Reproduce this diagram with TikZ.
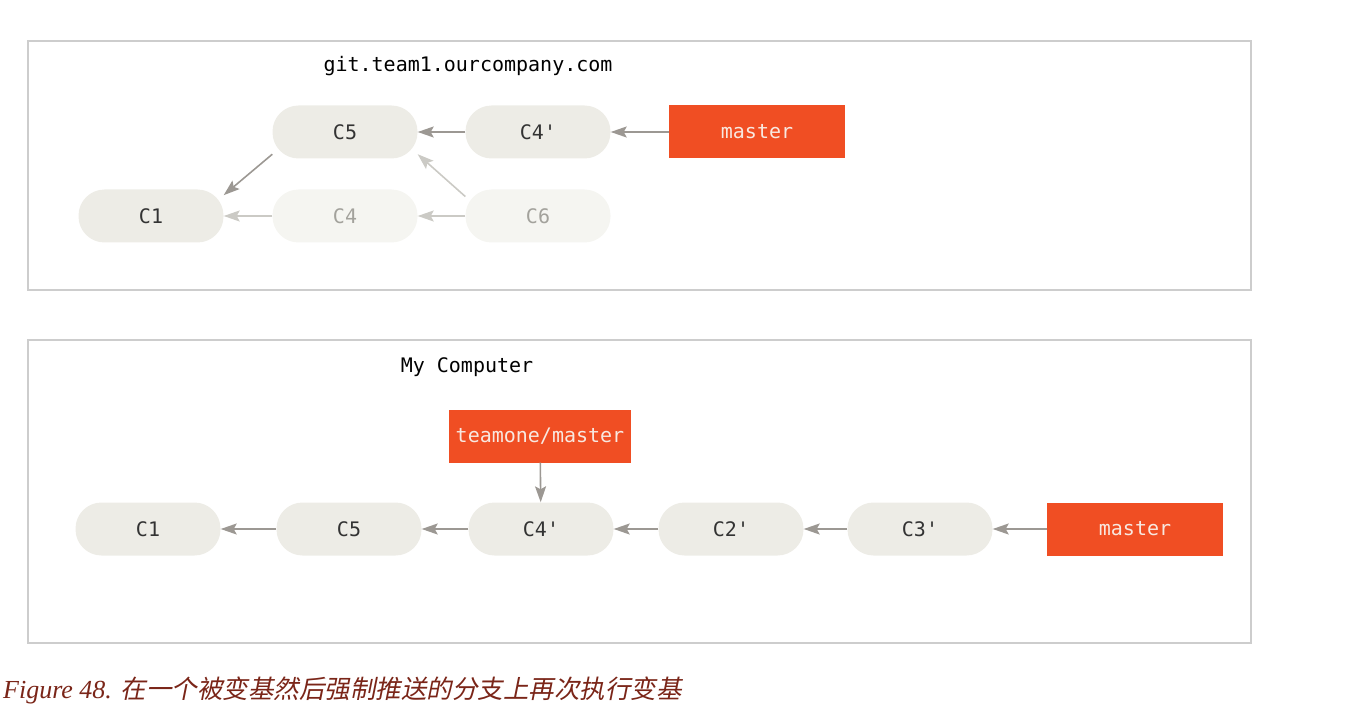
\documentclass[tikz,border=0pt]{standalone}
\usepackage{fontspec}
\setmainfont{Liberation Serif}
\setmonofont{DejaVu Sans Mono}
\newfontfamily\cjk{Noto Sans CJK SC}[FakeSlant=0.2]
\usepackage{tikz}
\usepackage{xcolor}
\usetikzlibrary{arrows.meta}

\definecolor{commitfill}{HTML}{EDECE6}
\definecolor{fadefill}{HTML}{F5F5F1}
\definecolor{fadetext}{HTML}{A3A29C}
\definecolor{arrowgray}{HTML}{9C9893}
\definecolor{fadearrow}{HTML}{CBCAC5}
\definecolor{branchred}{HTML}{F04E23}
\definecolor{branchtext}{HTML}{F8E8E0}
\definecolor{framegray}{HTML}{CDCDCD}
\definecolor{captionred}{HTML}{7A2518}

\tikzset{
	commit/.style={fill=commitfill, rounded corners=26pt, minimum width=145pt,
		minimum height=53pt, font=\ttfamily\fontsize{20}{23}\selectfont, text=black!80},
	faded/.style={commit, fill=fadefill, text=fadetext},
	branch/.style={fill=branchred, minimum height=53pt, inner xsep=7pt,
		font=\ttfamily\fontsize{20}{23}\selectfont, text=branchtext},
	arr/.style={-{Stealth[length=16pt,width=11pt,inset=3pt]}, draw=arrowgray, line width=1.6pt},
	fadearr/.style={arr, draw=fadearrow},
	frame/.style={draw=framegray, line width=2pt},
}

\begin{document}
\begin{tikzpicture}[x=1pt, y=-1pt]
	\useasboundingbox (0,0) rectangle (1362,711);

	% server
	\draw[frame] (28,41) rectangle (1251,290);
	\node[font=\ttfamily\fontsize{20}{23}\selectfont] (srv) at (468,66) {git.team1.ourcompany.com};
	\node[commit] (s1) at (151,216) {C1};
	\node[commit] (s5) at (345,132) {C5};
	\node[commit] (s4p) at (538,132) {C4'};
	\node[faded] (s4) at (345,216) {C4};
	\node[faded] (s6) at (538,216) {C6};
	\node[branch, minimum width=176pt] (smaster) at (757,132) {master};
	\draw[fadearr] (s4) -- (s1);
	\draw[fadearr] (s6) -- (s4);
	\draw[fadearr] (s6.165) -- (s5.343);
	\draw[arr] (s5.197) -- (s1.16);
	\draw[arr] (s4p) -- (s5);
	\draw[arr] (smaster) -- (s4p);

	% local
	\draw[frame] (28,340) rectangle (1251,643);
	\node[font=\ttfamily\fontsize{20}{23}\selectfont] (mine) at (467,367) {My Computer};
	\foreach \n/\t/\x in {b1/C1/148, b5/C5/349, b4/C4'/541, b2/C2'/731, b3/C3'/920}
	{
		\node[commit] (\n) at (\x,529) {\t};
	}
	\node[branch, minimum width=176pt] (bmaster) at (1135,529) {master};
	\node[branch, minimum width=182pt] (team) at (540,436) {teamone/master};
	\foreach \a/\b in {b5/b1, b4/b5, b2/b4, b3/b2, bmaster/b3, team/b4}
	{
		\draw[arr] (\a) -- (\b);
	}

	% caption
	\node[anchor=base west, inner sep=0pt, text=captionred] (cap) at (3,698)
		{\fontsize{26}{30}\selectfont\itshape Figure 48. {\cjk\fontsize{25.5}{30}\selectfont 在一个被变基然后强制推送的分支上再次执行变基}};
\end{tikzpicture}
\end{document}
